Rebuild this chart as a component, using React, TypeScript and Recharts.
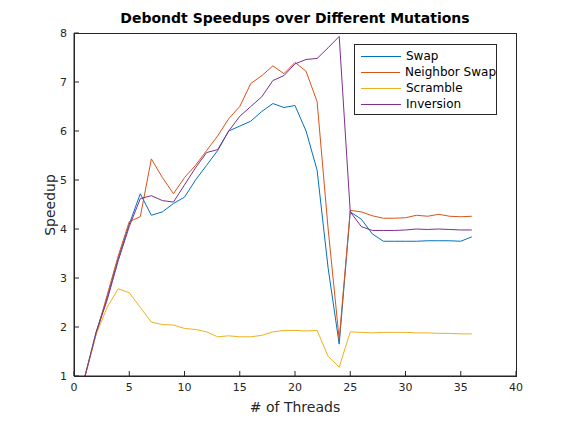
import React from 'react';
import { LineChart, Line, XAxis, YAxis } from 'recharts';

const threads = Array.from({ length: 36 }, (_, i) => i + 1);
const swap = [1.0,1.9,2.6,3.4,4.1,4.72,4.28,4.35,4.52,4.65,5.0,5.3,5.6,6.0,6.1,6.2,6.4,6.56,6.48,6.52,6.0,5.2,3.2,1.65,4.35,4.2,3.9,3.75,3.75,3.75,3.75,3.76,3.76,3.76,3.75,3.84];
const neighbor = [1.0,1.85,2.65,3.45,4.15,4.25,5.43,5.05,4.72,5.05,5.3,5.6,5.9,6.25,6.5,6.97,7.13,7.33,7.17,7.4,7.22,6.6,4.0,1.75,4.38,4.35,4.27,4.22,4.22,4.23,4.28,4.26,4.3,4.26,4.25,4.26];
const scramble = [1.0,1.85,2.4,2.78,2.7,2.4,2.1,2.05,2.04,1.97,1.95,1.9,1.8,1.82,1.8,1.8,1.83,1.9,1.93,1.93,1.92,1.93,1.4,1.18,1.9,1.89,1.88,1.89,1.89,1.89,1.88,1.88,1.87,1.87,1.86,1.86];
const inversion = [1.0,1.88,2.55,3.35,4.05,4.62,4.68,4.58,4.55,4.9,5.25,5.56,5.62,6.0,6.3,6.5,6.7,7.03,7.13,7.37,7.46,7.48,7.7,7.93,4.35,4.05,3.97,3.97,3.97,3.98,4.0,3.99,4.0,3.99,3.98,3.98];
const xTicks = [0,5,10,15,20,25,30,35,40];
const yTicks = [1,2,3,4,5,6,7,8];

const series = [
  { key: 'swap', name: 'Swap', color: '#0072BD' },
  { key: 'neighbor', name: 'Neighbor Swap', color: '#D95319' },
  { key: 'scramble', name: 'Scramble', color: '#EDB120' },
  { key: 'inversion', name: 'Inversion', color: '#7E2F8E' },
];

const data = threads.map((t, i) => ({ t, swap: swap[i], neighbor: neighbor[i], scramble: scramble[i], inversion: inversion[i] }));

const font = 'DejaVu Sans, sans-serif';
const tickStyle = { fontSize: 11, fill: '#262626', fontFamily: font };

export default function App() {
  return (
    <div style={{ position: 'absolute', left: 0, top: 0, width: 568, height: 423, background: '#fff', fontFamily: font }}>
      <LineChart width={568} height={423} data={data} margin={{ top: 33, right: 52, left: 44, bottom: 17 }}>
        <XAxis dataKey="t" type="number" domain={[0, 40]} ticks={xTicks} tick={tickStyle} tickSize={-5} tickMargin={12} height={30} stroke="#262626" axisLine={{ stroke: '#262626' }} />
        <XAxis xAxisId="top" orientation="top" dataKey="t" type="number" domain={[0, 40]} ticks={xTicks} tick={false} tickSize={-5} height={0} stroke="#262626" />
        <YAxis type="number" domain={[1, 8]} ticks={yTicks} tick={tickStyle} tickSize={-5} tickMargin={12} width={30} stroke="#262626" />
        <YAxis yAxisId="right" orientation="right" type="number" domain={[1, 8]} ticks={yTicks} tick={false} tickSize={-5} width={0} stroke="#262626" />
        {series.map(s => (
          <Line key={s.key} dataKey={s.key} stroke={s.color} strokeWidth={1} dot={false} isAnimationActive={false} type="linear" />
        ))}
      </LineChart>
      <div style={{ position: 'absolute', left: 74, top: 33, width: 443, height: 344, border: '1px solid #262626', boxSizing: 'border-box', pointerEvents: 'none' }} />
      <div style={{ position: 'absolute', left: 0, width: 568, top: 10, textAlign: 'center', paddingLeft: 22, boxSizing: 'border-box', fontSize: 14, fontWeight: 'bold', color: '#000' }}>
        Debondt Speedups over Different Mutations
      </div>
      <div style={{ position: 'absolute', left: 0, width: 568, top: 399, textAlign: 'center', paddingLeft: 22, boxSizing: 'border-box', fontSize: 14, color: '#262626' }}>
        # of Threads
      </div>
      <div style={{ position: 'absolute', left: 50, top: 205, transform: 'translate(-50%,-50%) rotate(-90deg)', fontSize: 14, color: '#262626', whiteSpace: 'nowrap' }}>
        Speedup
      </div>
      <div style={{ position: 'absolute', left: 354, top: 44, width: 143, height: 71, border: '1px solid #262626', background: '#fff', boxSizing: 'border-box', padding: '3px 0 0 6px' }}>
        {series.map(s => (
          <div key={s.key} style={{ display: 'flex', alignItems: 'center', height: 16, fontSize: 12, color: '#000', whiteSpace: 'nowrap' }}>
            <span style={{ display: 'inline-block', width: 40, height: 1, background: s.color, marginRight: 5 }} />
            {s.name}
          </div>
        ))}
      </div>
    </div>
  );
}
